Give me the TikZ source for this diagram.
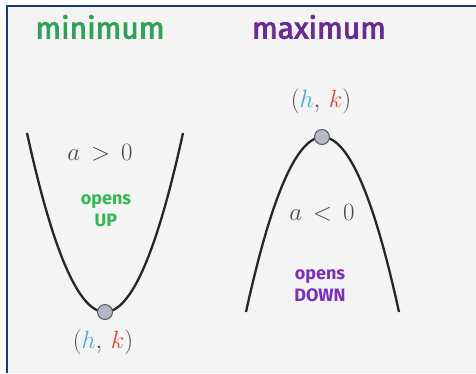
\documentclass[tikz,border=0pt]{standalone}
\usepackage{fontspec}
\newfontfamily\headfont[FakeBold=3]{Fira Sans}
\newfontfamily\openfont{Fira Sans}
\definecolor{bgcol}{HTML}{F4F4F4}
\definecolor{framecol}{HTML}{1B3A7A}
\definecolor{mingreen}{HTML}{33A05A}
\definecolor{upgreen}{HTML}{33B656}
\definecolor{maxpurple}{HTML}{6A2C91}
\definecolor{downpurple}{HTML}{7A30B8}
\definecolor{hblue}{HTML}{4AA8D8}
\definecolor{kred}{HTML}{E0443A}
\definecolor{mathgray}{HTML}{4A4A4A}
\definecolor{dotfill}{HTML}{B5B9C6}
\definecolor{dotdraw}{HTML}{5A5A5A}
\newcommand{\hk}{$(\textcolor{hblue}{h},\,\textcolor{kred}{k})$}
\begin{document}
\begin{tikzpicture}[x=1pt,y=-1pt,
  heading/.style={font=\headfont\fontsize{30}{32}\selectfont, inner sep=0pt},
  opentext/.style={font=\openfont\bfseries\fontsize{18}{22}\selectfont, align=center, inner sep=0pt},
  mathlabel/.style={font=\fontsize{29}{31}\selectfont, text=mathgray, inner sep=0pt},
  rellabel/.style={font=\fontsize{26}{28}\selectfont, text=mathgray, inner sep=0pt},
  curve/.style={line width=2.3pt, black!85},
  vertexdot/.style={circle, fill=dotfill, draw=dotdraw, line width=1pt, minimum size=15pt, inner sep=0pt}]
\useasboundingbox (0,0) rectangle (476,373);
\fill[white] (0,0) rectangle (476,373);
\fill[bgcol] (7,6) rectangle (476,373);
\draw[framecol, line width=2pt] (7,373) -- (7,6) -- (476,6);

% headings
\node[heading, text=mingreen] (minhead) at (100,27) {minimum};
\node[heading, text=maxpurple] (maxhead) at (319,27) {maximum};

% minimum parabola
\draw[curve] plot[domain=27:183, samples=80, smooth] (\x, {312 - 179*((\x-105)/78)^2});
\node[vertexdot] (minv) at (105,312) {};
\node[rellabel] (ming) at (100,153) {$a\,>\,0$};
\node[opentext, text=upgreen] (minopen) at (106,211) {opens\\UP};
\node[mathlabel] (minhk) at (103,342) {\hk};

% maximum parabola
\draw[curve] plot[domain=246:399, samples=80, smooth] (\x, {137 + 175*((\x-322.5)/76.5)^2});
\node[vertexdot] (maxv) at (322,137) {};
\node[mathlabel] (maxhk) at (321,101) {\hk};
\node[rellabel] (maxl) at (322,213) {$a\,<\,0$};
\node[opentext, text=downpurple] (maxopen) at (320,286) {opens\\DOWN};
\end{tikzpicture}
\end{document}
